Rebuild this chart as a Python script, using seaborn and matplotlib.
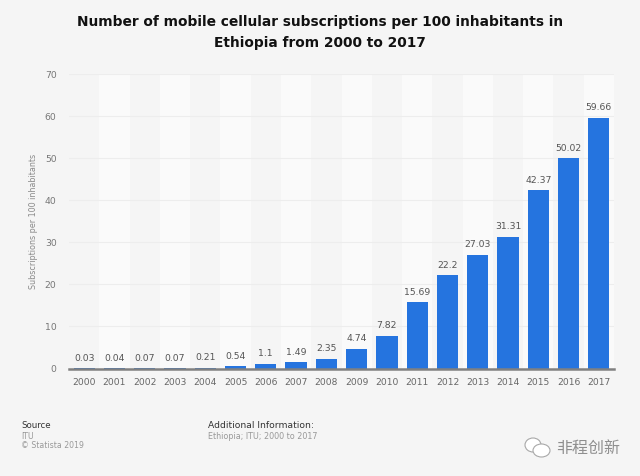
import matplotlib
matplotlib.use("Agg")
import matplotlib.pyplot as plt
from matplotlib.patches import Ellipse
import seaborn as sns
import pandas as pd

years = ["2000","2001","2002","2003","2004","2005","2006","2007","2008",
         "2009","2010","2011","2012","2013","2014","2015","2016","2017"]
subscriptions = [0.03,0.04,0.07,0.07,0.21,0.54,1.1,1.49,2.35,
                 4.74,7.82,15.69,22.2,27.03,31.31,42.37,50.02,59.66]
y_ticks = [0,10,20,30,40,50,60,70]

BG = "#f5f5f5"
sns.set_theme(style="white")
plt.rcParams["font.family"] = ["DejaVu Sans", "Noto Sans CJK SC"]

W, H = 640, 476
fig = plt.figure(figsize=(W/100, H/100), dpi=100, facecolor=BG)
ax = fig.add_axes([69/W, 1-368.5/H, 545/W, 294.5/H], facecolor=BG)

for i in range(1, len(years), 2):
    ax.axvspan(i-0.5, i+0.5, color="#fafafa", lw=0, zorder=0)
for t in y_ticks[1:]:
    ax.axhline(t, color="#ededed", lw=0.8, zorder=1)

df = pd.DataFrame({"year": years, "subs": subscriptions})
sns.barplot(data=df, x="year", y="subs", color="#2574df", saturation=1,
            width=0.7, ax=ax, zorder=2, edgecolor="none", linewidth=0)
ax.bar_label(ax.containers[0], labels=[f"{v:g}" for v in subscriptions],
             padding=4, fontsize=6.7, color="#555555", zorder=3)

ax.set_xlim(-0.5, len(years)-0.5)
ax.set_ylim(0, 70)
ax.set_yticks(y_ticks)
ax.set_xlabel("")
ax.set_ylabel("Subscriptions per 100 inhabitants", fontsize=5.8, color="#8a8a8a", labelpad=5)
ax.tick_params(axis="x", length=0, pad=7, labelsize=6.6, labelcolor="#666666")
ax.tick_params(axis="y", length=0, pad=9, labelsize=6.7, labelcolor="#777777")
for s in ["top", "left", "right"]:
    ax.spines[s].set_visible(False)
ax.spines["bottom"].set_color("#808080")
ax.spines["bottom"].set_linewidth(1.8)

fig.text(320/W, 1-32.5/H, "Number of mobile cellular subscriptions per 100 inhabitants in\nEthiopia from 2000 to 2017",
         ha="center", va="center", fontsize=9.9, fontweight="bold", color="#111111", linespacing=1.6)

fig.text(21/W, 1-426/H, "Source", fontsize=6.2, color="#333333", va="center")
fig.text(21/W, 1-436.5/H, "ITU", fontsize=5.6, color="#999999", va="center")
fig.text(21/W, 1-446/H, "© Statista 2019", fontsize=5.6, color="#999999", va="center")
fig.text(207.5/W, 1-426/H, "Additional Information:", fontsize=6.6, color="#333333", va="center")
fig.text(207.5/W, 1-436.5/H, "Ethiopia; ITU; 2000 to 2017", fontsize=5.8, color="#999999", va="center")

# WeChat-style watermark
for (cx, cy, w, h, z) in [(533, 445, 16, 14, 5), (541.5, 450.5, 17, 13, 6)]:
    fig.add_artist(Ellipse((cx/W, 1-cy/H), w/W, h/H, transform=fig.transFigure,
                           facecolor="white", edgecolor="#a8a8a8", lw=0.8, zorder=z))
fig.text(556/W, 1-448/H, "非程创新", fontsize=11.5, color="#8f8f8f", va="center",
         family=["Noto Sans CJK SC", "DejaVu Sans"])

fig.savefig("out.png", dpi=100, facecolor=BG)
